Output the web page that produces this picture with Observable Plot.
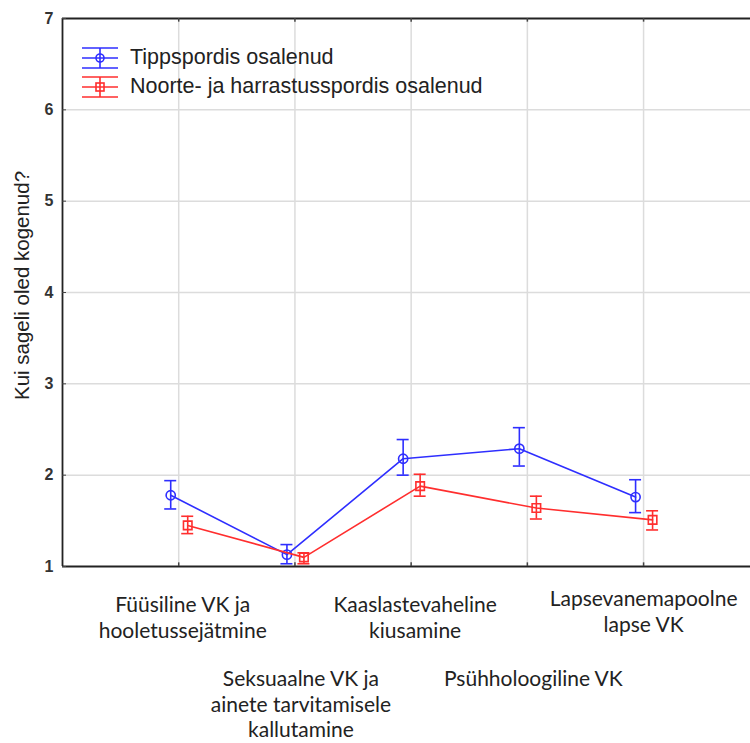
<!DOCTYPE html>
<html>
<head>
<meta charset="utf-8">
<script src="https://cdn.jsdelivr.net/npm/d3@7"></script>
<script src="https://cdn.jsdelivr.net/npm/@observablehq/plot@0.6"></script>
<style>
  html, body { margin: 0; padding: 0; background: #fff; }
  #wrap { position: relative; width: 750px; height: 743px; overflow: hidden; }
  #legend { position: absolute; left: 82px; top: 43px; font-family: "Liberation Sans", Arial, sans-serif; font-size: 21.5px; color: #222; }
  .row { display: flex; align-items: center; height: 29px; }
  .row svg { margin-right: 11px; }
</style>
</head>
<body>
<div id="wrap">
  <div id="chart"></div>
  <div id="legend"></div>
</div>
<script>
const categories = [
  "Füüsiline VK ja\nhooletussejätmine",
  "Seksuaalne VK ja\nainete tarvitamisele\nkallutamine",
  "Kaaslastevaheline\nkiusamine",
  "Psühholoogiline VK",
  "Lapsevanemapoolne\nlapse VK"
];
const seriesNames = ["Tippspordis osalenud", "Noorte- ja harrastusspordis osalenud"];
const tippMean = [1.78, 1.13, 2.18, 2.29, 1.76];
const tippLow  = [1.63, 1.03, 2.00, 2.10, 1.59];
const tippHigh = [1.94, 1.24, 2.39, 2.52, 1.95];
const noorteMean = [1.45, 1.10, 1.88, 1.64, 1.51];
const noorteLow  = [1.36, 1.03, 1.77, 1.52, 1.40];
const noorteHigh = [1.55, 1.15, 2.01, 1.77, 1.61];
const yTicks = [1, 2, 3, 4, 5, 6, 7];
const yLabel = "Kui sageli oled kogenud?";

const blue = "#2e2eff";
const red = "#ff2e2e";

const tipp = categories.map((c, i) => ({i: i + 1, c, m: tippMean[i], lo: tippLow[i], hi: tippHigh[i]}));
const noorte = categories.map((c, i) => ({i: i + 1, c, m: noorteMean[i], lo: noorteLow[i], hi: noorteHigh[i]}));
const cats = categories.map((c, i) => ({i: i + 1, c}));
const row1a = cats.filter((d, k) => k === 0 || k === 2);
const row1b = cats.filter((d, k) => k === 4);
const row2 = cats.filter((d, k) => k % 2 === 1);

function seriesMarks(data, color, dx, symbol, r) {
  return [
    Plot.line(data, {x: "i", y: "m", stroke: color, strokeWidth: 1.6, dx}),
    Plot.ruleX(data, {x: "i", y1: "lo", y2: "hi", stroke: color, strokeWidth: 1.6, dx}),
    Plot.ruleY(data, {y: "hi", x1: "i", x2: "i", stroke: color, strokeWidth: 1.6, dx, insetLeft: -6, insetRight: -6}),
    Plot.ruleY(data, {y: "lo", x1: "i", x2: "i", stroke: color, strokeWidth: 1.6, dx, insetLeft: -6, insetRight: -6}),
    Plot.dot(data, {x: "i", y: "m", symbol, r, stroke: color, strokeWidth: 1.6, fill: "none", dx})
  ];
}

const labelStyle = {x: "i", y: 1, text: "c", lineAnchor: "top", lineHeight: 1.24, fontSize: 21, fontFamily: "Lato, sans-serif", fill: "#222"};

const chart = Plot.plot({
  width: 750,
  height: 743,
  marginLeft: 62,
  marginRight: 0,
  marginTop: 18,
  marginBottom: 177,
  style: {fontFamily: "Liberation Sans, Arial, sans-serif", background: "#fff", overflow: "visible"},
  x: {domain: [0, 5.92], axis: null},
  y: {domain: [1, 7], axis: null},
  marks: [
    Plot.ruleY(yTicks.slice(1, -1), {stroke: "#dcdcdc", strokeWidth: 1.5}),
    Plot.ruleX(cats, {x: "i", stroke: "#dcdcdc", strokeWidth: 1.5}),
    Plot.ruleY([1, 7], {stroke: "#222", strokeWidth: 1.8}),
    Plot.ruleX([0], {stroke: "#222", strokeWidth: 1.8}),
    Plot.axisY({ticks: yTicks, tickSize: -4, tickPadding: 13, tickFormat: d => d, fontSize: 16, color: "#333", stroke: "#444", label: null, fontWeight: "bold"}),
    Plot.ruleX(cats, {x: "i", y1: 1, y2: 1.04, stroke: "#444", strokeWidth: 1.5}),
    Plot.ruleX(cats, {x: "i", y1: 6.96, y2: 7, stroke: "#444", strokeWidth: 1.5}),
    ...seriesMarks(tipp, blue, -8, "circle", 4.6),
    ...seriesMarks(noorte, red, 9, "square", 4.8),
    Plot.text(row1a, {...labelStyle, dy: 27, dx: 4}),
    Plot.text(row1b, {...labelStyle, dy: 21}),
    Plot.text(row2, {...labelStyle, dy: 102, dx: 6, lineHeight: 1.2}),
    Plot.text([yLabel], {frameAnchor: "left", textAnchor: "middle", rotate: -90, dx: -40, dy: -7, fontSize: 20.5, fill: "#222"})
  ]
});
document.getElementById("chart").appendChild(chart);

const legend = document.getElementById("legend");
[[seriesNames[0], blue, "circle"], [seriesNames[1], red, "square"]].forEach(([name, color, sym]) => {
  const row = document.createElement("div");
  row.className = "row";
  const marker = sym === "circle"
    ? `<circle cx="18" cy="11" r="4" fill="none" stroke="${color}" stroke-width="1.6"/>`
    : `<rect x="14" y="7" width="8" height="8" fill="none" stroke="${color}" stroke-width="1.6"/>`;
  row.innerHTML = `<svg width="37" height="22" viewBox="0 0 37 22">
    <line x1="0" x2="36" y1="1" y2="1" stroke="${color}" stroke-width="1.6"/>
    <line x1="0" x2="36" y1="11" y2="11" stroke="${color}" stroke-width="1.6"/>
    <line x1="0" x2="36" y1="21" y2="21" stroke="${color}" stroke-width="1.6"/>
    <line x1="18" x2="18" y1="1" y2="21" stroke="${color}" stroke-width="1.6"/>
    ${marker}
  </svg><span>${name}</span>`;
  legend.appendChild(row);
});
</script>
</body>
</html>
